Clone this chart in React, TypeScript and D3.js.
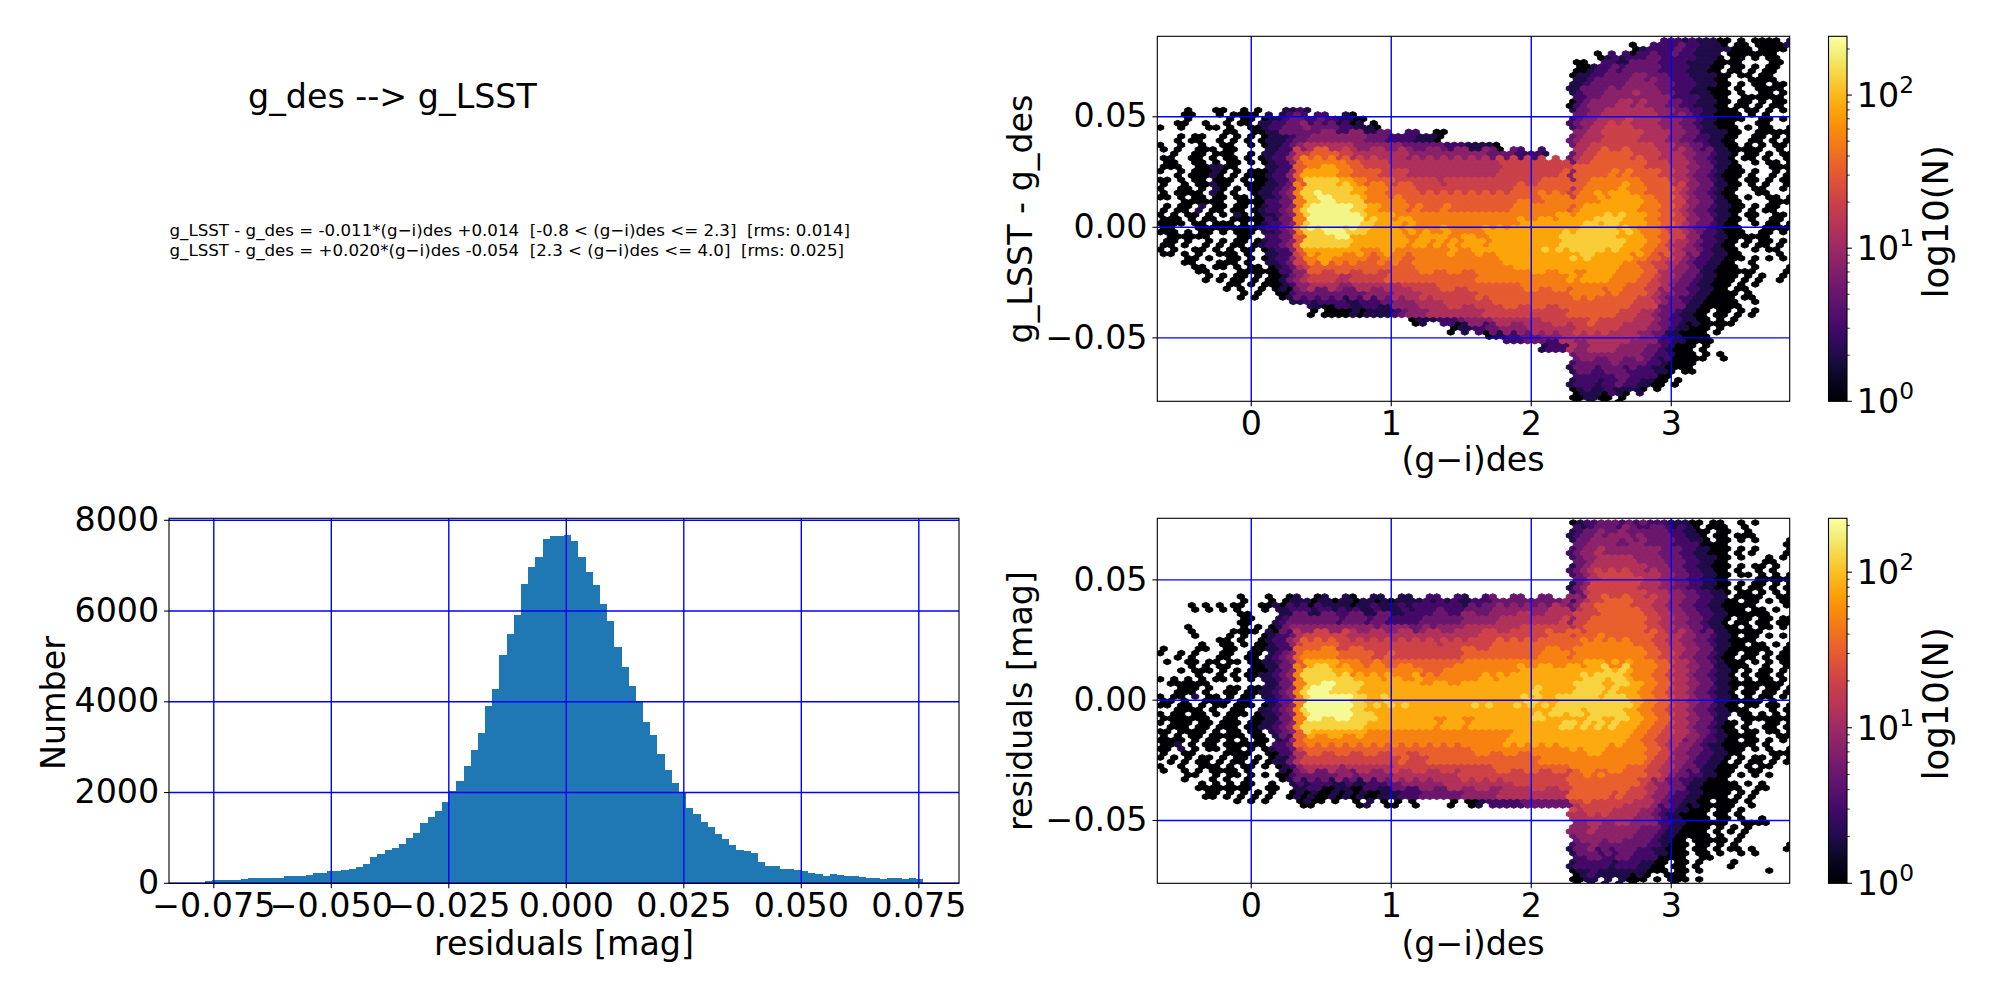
import { useEffect, useRef } from 'react';
import * as d3 from 'd3';

const FONT = '"DejaVu Sans", sans-serif';
const TICK_PX = 33.3;

// histogram of the residuals, 100 equal bins
const histStart = -0.07687;
const histBinWidth = 0.001528;
const histCounts = [
  44, 73, 73, 73, 73, 95, 118, 118, 118, 118,
  118, 162, 162, 162, 184, 228, 228, 272, 272, 294,
  316, 360, 426, 581, 647, 735, 779, 868, 1000, 1110,
  1331, 1463, 1596, 1794, 2037, 2257, 2588, 2941, 3316, 3907,
  4282, 5031, 5494, 5913, 6597, 6972, 7191, 7588, 7654, 7654,
  7676, 7544, 7191, 6861, 6575, 6155, 5781, 5208, 4767, 4348,
  3990, 3555, 3268, 2850, 2497, 2210, 2012, 1660, 1527, 1351,
  1241, 1087, 977, 845, 735, 713, 669, 470, 382, 382,
  316, 316, 294, 272, 228, 206, 162, 206, 184, 162,
  162, 140, 118, 118, 95, 118, 118, 95, 118, 95,
];
const histXTicks = [-0.075, -0.05, -0.025, 0, 0.025, 0.05, 0.075];
const histYTicks = [0, 2000, 4000, 6000, 8000];

const hexXTicks = [0, 1, 2, 3];
const hexYTicks = [-0.05, 0, 0.05];
const cbarMajor = [1, 10, 100];
const cbarMinor = [2, 3, 4, 5, 6, 7, 8, 9, 20, 30, 40, 50, 60, 70, 80, 90, 200];

// hex cell lattice: column spacing in colour, row spacing in magnitudes
const hexFirstX = -0.65;
const hexStepX = 0.05;

// count that each level character stands for
const levelCounts: Record<string, number> = {
  '0': 1, '1': 2, '2': 3, '3': 5, '4': 8, '5': 13, '6': 20, '7': 32, '8': 50, '9': 80, a: 125, b: 200,
};

// one string per row of cells, "startColumn:levels", '.' is an empty cell
const topRows = [
  '72:2221211100.0.00.0 86:.0..1',
  '68:01222232211111000.00 86:0.00',
  '63:012122233222221110.00.0.00..0',
  '60:001223233333222211100.00.0.00',
  '59:01122333344333222111100.00.00.',
  '59:11233333444433322211100.0.00.00',
  '59:12333444454443322111000.0..00.0',
  '59:02344445545444332211100.00.0.00',
  '4:0...00..0.0...1121 59:13344555555544433221100 82:0.00.0.0.',
  '4:0.....0.00.011233223221100 59:23445555655554443321100 82:00..00.0.',
  '0:0..0...00.0..0012233343333221110 59:23455666655554443321100 82:0.0.00..0',
  '0:...0.00..0.0.0.011 18:12334444444433322221110 59:34555666665555443322110 82:0..00.0.0',
  '0:0..0..0..00..0.011 18:2345555555444444433333322211110 59:35566666666655544332110 82:0.0.0.00.',
  '0:..0..00.000..0.112 18:24667777665555555544444444444333322221 59:35667777766665554433211 82:0.00.0.00',
  '0:.00..00.0.00.0.012 18:2478888887766665555555555555555666666666666 59:36677777777666555433211 82:0..0.00.0',
  '0:0..0.00010.0.00012 18:2479999988777766665555555555555666666666777 59:47777787877776655433210 82:00.0..0.0',
  '0:00.0.00.000.0.0012 18:247aaaaa99887777666666566666666666666777777 59:47788888887777655433210 82:0.00.0.00',
  '0:0..00.0.10.0.00112 18:348aaaaaaa9988877776666666666666677777777777 59:57888889888777765433210 82:0..00..0.',
  '0:00.0.00.00.00.0112 18:348aabbaaaa98887877777777777777777777888888 59:68889899998877765433210 82:0.0..00.0',
  '0:.0.00.1.00.00.0122 18:348abbbbbbaa9988887877787777777778888888888 59:78999999998887765433211 82:00.0.00..',
  '0:0.0.00.0.0.10.0112 18:348abbbbbbba999988888888888888888888888999 59:89999a9a999887765433211 82:0.00..00.',
  '0:0000.00.000.0.0122 18:348abbbbbbbaa99998988888888888888899999999 59:99aa9aa9999887765433210 82:0..0.00.0',
  '0:000.0.00.0.000.112 18:348aaabbbaaa9999989898898888899999999999a99 59:9aaaaaa9a98887665432210 82:00..00.0.',
  '0:.00.0..0.0.00.0122 18:347aaaaaaa999999998998989899989999999999aa 59:aaaaaaaa999887655432210 82:0.0.00.0.',
  '0:0.0..00.0.0.00.012 18:2479999999988899888888889889999999999a9a9aaa 59:aaaaa9a9998877654432110 82:0..0.00..',
  '0:....00.0..00.0.012 18:246889988888778887788888888888899999999999999 59:a9a99999988776654322110 82:00.0.0.0.',
  '0:.....00.00.0.00.01 18:235677777777777777788888888888888999999999 59:99999998887766544321100 82:0..0....0',
  '0:.......0.0.00.0.00 18:1345666655666667777777777777888888888888888 59:98999988887765543321100 82:0.0.0..0.',
  '0:..........00.0.000 18:1244555544555555566666777777777777888888888 59:88888888777665433211000 82:.0.0.....',
  '0:............0.0..0 18:0233333333334444555566666666777777777777777 59:88888787777654433211000 82:0.0......',
  '18:.1121222211222334445555666666677777777777777 59:77777777766654332110000 82:0..0.....',
  '18:....0.00001011112344455555555666666666666666 59:77777776665543321100.00 82:.0.0.....',
  '36:0111222344445555555666666666 59:66676666655543221100.0 82:0........',
  '42:011223344445555555555 59:56666665555443211000.0',
  '47:0112233344455 59:55555555554432110000',
  '55:1222 59:544555544443321000.0',
  '59:344444444433221000.0.0',
  '59:233333433332210000',
  '59:133223332222110.00',
  '59:12221223221100.0',
  '59:01211211110.0',
  '59:001100.0',
];

const bottomRows = [
  '59:0122333232322211100.00..0.0',
  '59:12334334333333221100.00..0',
  '59:13344443434333322110.00.0.0....00',
  '59:23445444444443332211000.0.0....00',
  '59:23445555544443332211100.0...0.0.0',
  '59:13455555555444332211000.0.00.0..0',
  '59:23456666655554433221100.00.0.0.0',
  '59:13466666665554433221100.0.00.0.00',
  '59:23566666666555443322110.00.0.0.00',
  '12:0...0 18:011101101101101011112121211222333333333344 59:24566777766655443322110 82:0.00.0.00',
  '0:.....0.0.0.0...0.1 18:122212212121121112122232223333444444445555 59:35667777776655443322110 82:00.00.0..',
  '0:............00...1 18:233333332333233222223333334444455555555566 59:46677777777665544332110 82:.00.00.00',
  '0:....0.......0.0.01 18:344444444444434444334344445555555566666666 59:56777777777665544332110 82:0.0.00.0.',
  '0:.....0....0.0..012 18:235666666555555555555555555566666666667777 59:67778777777766554433211 82:0.00.0.0.',
  '0:......0..00.0.0012 18:246777776666666666666656666666777777777777 59:77888888877766554433211 82:00.00.0.0',
  '0:0..0.0...00..00.12 18:347888887777766766666666667777777777788888 59:78888888888776654433210 82:0.00.0.00',
  '0:.0..00.00.00.00112 18:347999998887787777777777778888888888888889 59:88999898988877655433210 82:00.0.0.00',
  '0:...0.000.0.0.00012 18:348aaaa99988888888887778888888888899999999 59:99999a9a988877655433211 82:0.0.00.0.',
  '0:0.0.0.0.00.0.0.112 18:348aaaaaaa99998998898888888899899999999999 59:99aaa9aa988877655433211 82:0.0.00.0.',
  '0:...000.0..00.00112 18:348abbbaaaa9999999999999999999999999a99999 59:9aaaa9a9998877655433211 82:0.00.00.0',
  '0:0.00.1.00.0.00.112 18:348abbbbbbaa99a9999999999999999999a9a99aaa 59:aaaa9aaa998877655433211 82:0.0.00.0.',
  '0:00.00.0.00.000.012 18:348bbbbbbbaa9a9a9a999999999a9a999a9a9a9aaa 59:aaaaaaaaa98877655433210 82:0.00.00.0',
  '0:0.00.00.0.000.0112 18:348abbbbbbaaa99999999999999999999999a9aa99 59:aa9aaaaa998877655433211 82:.00.0.0.0',
  '0:0.000.00.000.00112 18:348aaaaaaaaa9999999999899989999999999999a9 59:a9a9a9a9998877655433210 82:0.0..00.0',
  '0:00.0000.0.00.00.12 18:347a9999999988888888888888888888899999999999 59:99999999988776655433210 82:0.00.00.0',
  '0:0000.0.00.0.0.00.1 18:247888888888888888888888888888889999999999 59:99999999887766553432210 82:0.00.0.0.',
  '0:00.1.0.00.00.0.012 18:236777777777777777777777777888888888888888 59:98999888888776544332110 82:00.0.0..0',
  '0:0.0.0.00.0.00.0.01 18:135666666666666667666777777777777777788888 59:88888888888766544322110 82:.0.00.0.0',
  '0:0..0..000.0.00.0.0 18:124555554555555566666666666666777777777777 59:88888888777665543321100 82:0.0.00...',
  '0:....00..0.00.0.0.0 18:023333334434444455555555566666666666666666 59:77878777777665433221100 82:.0.0.0...',
  '0:......0.0.0.00..0. 18:.12122211211222334444445555555555666666666 59:77777777776544332110000 82:0.0.0....',
  '0:.......00.0.0.0.0. 18:.01010010101001112223333334444455555555555 59:77777767666544322110000 82:.0.0.....',
  '11:0.0.0.. 18:..0100.0..0.1.0.0.0.....0.00122222333333333 59:66766666655543221100.00 82:0.0......',
  '59:65666655554432211000.00 82:.0.......',
  '59:55555555544432110000.00 82:.0..0....',
  '59:44454444443332110000.0 82:0.0......',
  '59:34444444433321100000.0 82:.0.......',
  '59:23343333333221000.00.0 82:0.......0',
  '59:13332323322211000.00.0 82:.0.0.....',
  '59:12222212221100.00.0 82:0........',
  '59:01121111111000.00.0 82:.....0...',
  '59:0011.1.1000.0.000.0',
];

const formulaLines = [
  'g_LSST - g_des = -0.011*(g\u2212i)des +0.014  [-0.8 < (g\u2212i)des <= 2.3]  [rms: 0.014]',
  'g_LSST - g_des = +0.020*(g\u2212i)des -0.054  [2.3 < (g\u2212i)des <= 4.0]  [rms: 0.025]',
];

const minus = (s: string) => s.replace('-', '\u2212');

type Sel = d3.Selection<SVGGElement, unknown, null, undefined>;

function styleAxis(g: Sel) {
  g.select('.domain').remove();
  g.selectAll('line').attr('stroke', 'black').attr('stroke-width', 1.1);
  g.selectAll('text').attr('fill', 'black').style('font-family', FONT).style('font-size', `${TICK_PX}px`);
}

function addLabel(root: Sel, text: string, x: number, y: number, rotate = false, size = TICK_PX) {
  root.append('text')
    .attr('transform', `translate(${x},${y})${rotate ? ' rotate(-90)' : ''}`)
    .attr('text-anchor', 'middle')
    .style('font-family', FONT)
    .style('font-size', `${size}px`)
    .text(text);
}

// rows -> sparse grid of level characters, later runs overwrite earlier ones
function parseRows(rows: string[]) {
  return rows.map(row => {
    const cells: Record<number, string> = {};
    row.split(' ').forEach(run => {
      const [start, chars] = run.split(':');
      Array.from(chars).forEach((ch, k) => {
        if (ch !== '.') cells[Number(start) + k] = ch;
      });
    });
    return cells;
  });
}

interface HexPanel {
  id: string;
  rows: string[];
  xDomain: [number, number];
  yDomain: [number, number];
  top: number;
  bottom: number;
  yTop: number;
  yStep: number;
  vmax: number;
  yLabel: string;
  yLabelY: number;
  xLabelY: number;
}

function drawHexPanel(root: Sel, p: HexPanel) {
  const left = 1157.3;
  const right = 1789.7;
  const x = d3.scaleLinear().domain(p.xDomain).range([left, right]);
  const y = d3.scaleLinear().domain(p.yDomain).range([p.bottom, p.top]);
  const color = d3.scaleSequentialLog(d3.interpolateInferno).domain([1, p.vmax]);

  root.append('clipPath').attr('id', p.id)
    .append('rect').attr('x', left).attr('y', p.top).attr('width', right - left).attr('height', p.bottom - p.top);

  // half a column and half a row in pixels
  const halfW = (x(hexStepX) - x(0)) / 2;
  const rowGap = (y(0) - y(p.yStep)) / 2;
  const halfH = (rowGap * 2) / 3;

  const paths = new Map<string, d3.Path>();
  const addHex = (ch: string, cx: number, cy: number) => {
    if (!paths.has(ch)) paths.set(ch, d3.path());
    const path = paths.get(ch)!;
    path.moveTo(cx, cy - halfH);
    path.lineTo(cx + halfW, cy - halfH / 2);
    path.lineTo(cx + halfW, cy + halfH / 2);
    path.lineTo(cx, cy + halfH);
    path.lineTo(cx - halfW, cy + halfH / 2);
    path.lineTo(cx - halfW, cy - halfH / 2);
    path.closePath();
  };

  const grid = parseRows(p.rows);
  grid.forEach((cells, j) => {
    const cy = y(p.yTop - p.yStep * j);
    const next = grid[j + 1] ?? {};
    for (let col = 0; col <= 91; col++) {
      const cx = x(hexFirstX + hexStepX * col);
      const own = cells[col];
      if (own) addHex(own, cx, cy);
      // the staggered row in between takes one of its four neighbours
      const around = [own, cells[col + 1], next[col], next[col + 1]];
      let pick = around[(col * 5 + j * 3 + col * j) % 4];
      if (!pick && own && own > '1') pick = own;
      if (pick) addHex(pick, cx + halfW, cy + rowGap);
    }
  });

  const cellsG = root.append('g').attr('clip-path', `url(#${p.id})`);
  Object.keys(levelCounts).forEach(ch => {
    const path = paths.get(ch);
    if (!path) return;
    const c = color(levelCounts[ch]);
    cellsG.append('path').attr('d', path.toString()).attr('fill', c).attr('stroke', c).attr('stroke-width', 1);
  });

  // grid lines
  const gridG = root.append('g').attr('stroke', 'blue').attr('stroke-width', 1.4);
  hexXTicks.forEach(v => gridG.append('line').attr('x1', x(v)).attr('x2', x(v)).attr('y1', p.top).attr('y2', p.bottom));
  hexYTicks.forEach(v => gridG.append('line').attr('x1', left).attr('x2', right).attr('y1', y(v)).attr('y2', y(v)));

  root.append('rect').attr('x', left).attr('y', p.top).attr('width', right - left).attr('height', p.bottom - p.top)
    .attr('fill', 'none').attr('stroke', 'black').attr('stroke-width', 1.1);

  root.append('g').attr('transform', `translate(0,${p.bottom})`)
    .call(d3.axisBottom(x).tickValues(hexXTicks).tickSize(4.86).tickPadding(4.9).offset(0).tickFormat(d => String(d)))
    .call(styleAxis);
  root.append('g').attr('transform', `translate(${left},0)`)
    .call(d3.axisLeft(y).tickValues(hexYTicks).tickSize(4.86).tickPadding(4.9).offset(0).tickFormat(d => minus(d3.format('.2f')(Number(d)))))
    .call(styleAxis);

  addLabel(root, '(g\u2212i)des', 1473, p.xLabelY);
  addLabel(root, p.yLabel, 1032, p.yLabelY, true);

  // colour bar
  const cbLeft = 1828.5;
  const cbRight = 1847;
  const cb = d3.scaleLog().domain([1, p.vmax]).range([p.bottom, p.top]);
  const gradient = root.append('linearGradient').attr('id', `${p.id}-cb`)
    .attr('x1', 0).attr('x2', 0).attr('y1', 1).attr('y2', 0);
  d3.range(0, 1.0001, 0.05).forEach(t => {
    gradient.append('stop').attr('offset', t).attr('stop-color', d3.interpolateInferno(t));
  });
  root.append('rect').attr('x', cbLeft).attr('y', p.top).attr('width', cbRight - cbLeft).attr('height', p.bottom - p.top)
    .attr('fill', `url(#${p.id}-cb)`);
  root.append('rect').attr('x', cbLeft).attr('y', p.top).attr('width', cbRight - cbLeft).attr('height', p.bottom - p.top)
    .attr('fill', 'none').attr('stroke', 'black').attr('stroke-width', 1.1);

  const ticks = root.append('g').attr('stroke', 'black');
  cbarMinor.filter(v => v <= p.vmax).forEach(v => {
    ticks.append('line').attr('x1', cbRight).attr('x2', cbRight + 2.8).attr('y1', cb(v)).attr('y2', cb(v)).attr('stroke-width', 0.8);
  });
  cbarMajor.forEach((v, i) => {
    ticks.append('line').attr('x1', cbRight).attr('x2', cbRight + 4.86).attr('y1', cb(v)).attr('y2', cb(v)).attr('stroke-width', 1.1);
    const label = root.append('text')
      .attr('x', cbRight + 9.8).attr('y', cb(v) + 12)
      .style('font-family', FONT).style('font-size', `${TICK_PX}px`);
    label.append('tspan').text('10');
    label.append('tspan').attr('dy', -14).style('font-size', `${TICK_PX * 0.7}px`).text(String(i));
  });
  addLabel(root, 'log10(N)', 1948, (p.top + p.bottom) / 2 + 3, true, 35.4);
}

function drawHistogram(root: Sel) {
  const left = 169;
  const right = 959;
  const top = 518.3;
  const bottom = 883.3;
  const x = d3.scaleLinear().domain([-0.08453, 0.08355]).range([left, right]);
  const y = d3.scaleLinear().domain([0, 8044]).range([bottom, top]);

  root.selectAll('rect.bin').data(histCounts).join('rect')
    .attr('class', 'bin')
    .attr('x', (_, i) => x(histStart + histBinWidth * i))
    .attr('width', x(histBinWidth) - x(0))
    .attr('y', d => y(d))
    .attr('height', d => y(0) - y(d))
    .attr('shape-rendering', 'crispEdges')
    .attr('fill', '#1f77b4');

  const grid = root.append('g').attr('stroke', 'blue').attr('stroke-width', 1.4);
  histXTicks.forEach(v => grid.append('line').attr('x1', x(v)).attr('x2', x(v)).attr('y1', top).attr('y2', bottom));
  histYTicks.forEach(v => grid.append('line').attr('x1', left).attr('x2', right).attr('y1', y(v)).attr('y2', y(v)));

  root.append('rect').attr('x', left).attr('y', top).attr('width', right - left).attr('height', bottom - top)
    .attr('fill', 'none').attr('stroke', 'black').attr('stroke-width', 1.1);

  root.append('g').attr('transform', `translate(0,${bottom})`)
    .call(d3.axisBottom(x).tickValues(histXTicks).tickSize(4.86).tickPadding(4.9).offset(0).tickFormat(d => minus(d3.format('.3f')(Number(d)))))
    .call(styleAxis);
  root.append('g').attr('transform', `translate(${left},0)`)
    .call(d3.axisLeft(y).tickValues(histYTicks).tickSize(4.86).tickPadding(4.9).offset(0).tickFormat(d => String(d)))
    .call(styleAxis);

  addLabel(root, 'residuals [mag]', 564, 955);
  addLabel(root, 'Number', 65, 703, true);
}

export default function App() {
  const svgRef = useRef<SVGSVGElement>(null);

  useEffect(() => {
    if (!svgRef.current) return;
    const svg = d3.select(svgRef.current);
    svg.selectAll('*').remove();
    const root = svg.append('g') as unknown as Sel;

    // title and fit formulas
    root.append('text').attr('x', 248).attr('y', 108)
      .style('font-family', FONT).style('font-size', `${TICK_PX}px`)
      .text('g_des --> g_LSST');
    formulaLines.forEach((line, i) => {
      root.append('text').attr('x', 169.5).attr('y', 236 + i * 19.6)
        .attr('xml:space', 'preserve').style('white-space', 'pre')
        .style('font-family', FONT).style('font-size', '16.67px')
        .text(line);
    });

    drawHistogram(root);
    drawHexPanel(root, {
      id: 'hex-top', rows: topRows,
      xDomain: [-0.671, 3.846], yDomain: [-0.0787, 0.0864],
      top: 36.3, bottom: 401.3, yTop: 0.0845, yStep: 0.00394, vmax: 242,
      yLabel: 'g_LSST - g_des', yLabelY: 219, xLabelY: 471,
    });
    drawHexPanel(root, {
      id: 'hex-bottom', rows: bottomRows,
      xDomain: [-0.671, 3.846], yDomain: [-0.0761, 0.0756],
      top: 518.3, bottom: 883.3, yTop: 0.0738, yStep: 0.003616, vmax: 222,
      yLabel: 'residuals [mag]', yLabelY: 701, xLabelY: 955,
    });
  }, []);

  return (
    <svg
      ref={svgRef}
      width={2000}
      height={1000}
      style={{ position: 'absolute', left: 0, top: 0, background: 'white' }}
    />
  );
}
